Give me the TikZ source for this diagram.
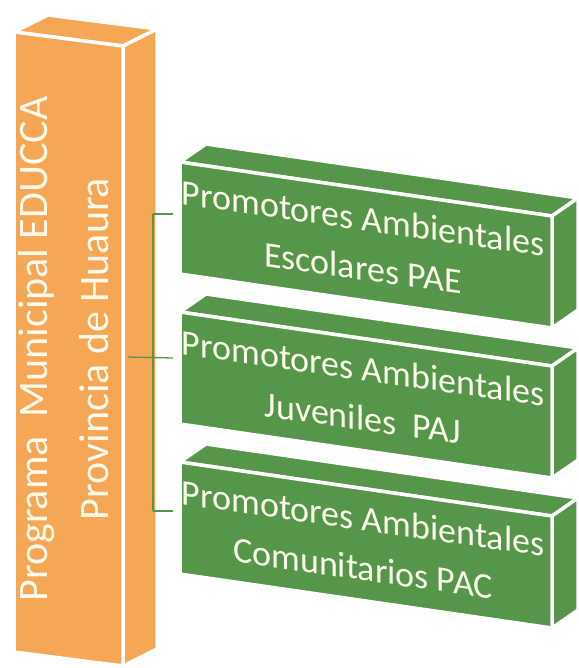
\documentclass[tikz,border=0pt]{standalone}
\usepackage{fontspec}
\setmainfont{Carlito}
\definecolor{naranja}{RGB}{245,167,86}
\definecolor{verde}{RGB}{86,150,74}
\definecolor{texto}{RGB}{252,250,235}
\tikzset{
  cara/.style={fill=#1, draw=white, line width=3.5pt, line join=round},
  rotulo/.style={text=texto, align=center, inner sep=0pt, font=\fontsize{36}{50}\selectfont},
  conector/.style={draw=verde, line width=1.3pt}
}
\begin{document}
\begin{tikzpicture}[x=1pt, y=-1pt]
\useasboundingbox (0,0) rectangle (578,668);

% Bloque naranja: programa municipal
\path[cara=naranja] (14,32) -- (48,15) -- (157,29) -- (123,46) -- cycle;
\path[cara=naranja] (123,46) -- (157,29) -- (157,649) -- (123,666) -- cycle;
\path[cara=naranja] (14,32) -- (123,46) -- (123,666) -- (14,652) -- cycle;
\node[rotulo, rotate=90, font=\fontsize{42}{61}\selectfont] (prog) at (64,349)
  {Programa\ \ Municipal EDUCCA\\Provincia de Huaura};

% Bloques verdes: promotores ambientales
\foreach \y/\nombre in {162/pae, 312/paj, 462/pac} {
  \path[cara=verde] (180,\y) -- (206,\y-18) -- (578,\y+36) -- (552,\y+54) -- cycle;
  \path[cara=verde] (552,\y+54) -- (578,\y+36) -- (578,\y+148) -- (552,\y+166) -- cycle;
  \path[cara=verde] (180,\y) -- (552,\y+54) -- (552,\y+166) -- (180,\y+112) -- cycle;
}
\node[rotulo, yslant=-0.1425] (pae) at (363,243) {Promotores Ambientales\\Escolares PAE};
\node[rotulo, yslant=-0.1425] (paj) at (363,393) {Promotores Ambientales\\Juveniles\ \ PAJ};
\node[rotulo, yslant=-0.1425] (pac) at (363,543) {Promotores Ambientales\\Comunitarios PAC};

% Conectores
\coordinate (prog-e) at (128,357);
\coordinate (tronco) at (153,357);
\coordinate (pae-o) at (173,214);
\coordinate (paj-o) at (173,358);
\coordinate (pac-o) at (173,511);
\draw[conector] (prog-e) -- (paj-o);
\draw[conector] (tronco |- pae-o) -- (tronco |- pac-o);
\draw[conector] (tronco |- pae-o) -- (pae-o);
\draw[conector] (tronco |- pac-o) -- (pac-o);
\end{tikzpicture}
\end{document}
